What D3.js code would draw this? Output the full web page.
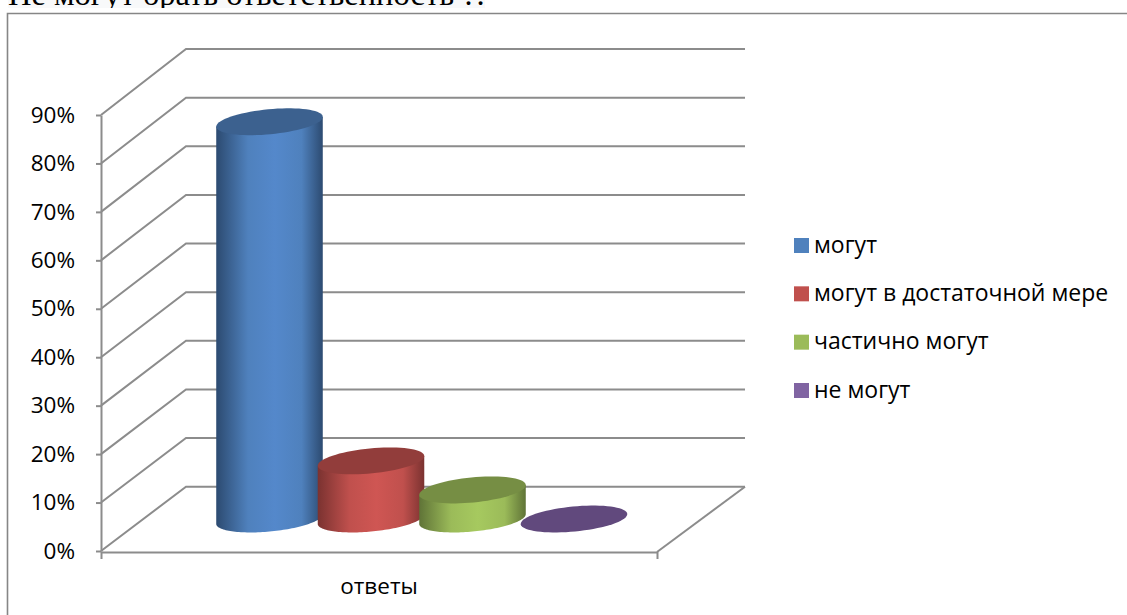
<!DOCTYPE html>
<html>
<head>
<meta charset="utf-8">
<script src="https://cdn.jsdelivr.net/npm/d3@7"></script>
<style>
  html, body { margin: 0; padding: 0; background: #fff; overflow: hidden; }
  text { font-family: "Open Sans", sans-serif; fill: #000; }
</style>
</head>
<body>
<svg id="chart" width="1127" height="615"></svg>
<script>
const caption = "Не могут брать ответственность ?.";
const category = ["ответы"];
const series = ["могут", "могут в достаточной мере", "частично могут", "не могут"];
const values = [0.82, 0.12, 0.06, 0];
const tickValues = [0, 0.1, 0.2, 0.3, 0.4, 0.5, 0.6, 0.7, 0.8, 0.9];
const faceColors = ["#4f81bd", "#c0504d", "#9bbb59", "#8064a2"];
const topColors = ["#3c618f", "#923d3b", "#768e44", "#61497d"];
const lightColors = ["#5488cb", "#cf5653", "#a6c95f", "#8064a2"];
const darkColors = ["#2c4a70", "#7a3230", "#5f7337", "#61497d"];

const gridColor = "#8c8c8c";
const front = { left: 101, right: 657, bottom: 551, top: 115, floor: 552 };
const back = { left: 186, right: 745, bottom: 486.7, top: 49 };

const svg = d3.select("#chart");
const defs = svg.append("defs");

// caption cut off by the top of the picture
defs.append("clipPath").attr("id", "captionClip")
  .append("rect").attr("x", 0).attr("y", 0).attr("width", 1127).attr("height", 8);
const captionG = svg.append("g").attr("clip-path", "url(#captionClip)");
captionG.append("rect")
  .attr("x", 8).attr("y", 0).attr("width", 477).attr("height", 8)
  .attr("fill", "#f8f9fa");
captionG.append("text")
  .attr("x", 8).attr("y", 5)
  .style("font-family", "'Liberation Serif', serif")
  .style("font-size", "32.5px")
  .text(caption);

// outer frame, runs off the right and bottom
svg.append("path")
  .attr("d", "M7.5,615V13.5H1127")
  .attr("fill", "none")
  .attr("stroke", "#868686")
  .attr("stroke-width", 1.6);

const y = d3.scaleLinear().domain([0, 0.9]).range([front.bottom, front.top]);
const yBack = d3.scaleLinear().domain([0, 0.9]).range([back.bottom, back.top]);
const x = d3.scaleBand().domain(category).range([front.left, front.right]);
const barX = d3.scalePoint().domain(series).range([269.5, 574]);

// walls and floor
const grid = svg.append("g")
  .attr("fill", "none")
  .attr("stroke", gridColor)
  .attr("stroke-width", 2);
grid.selectAll("path.wall")
  .data(tickValues)
  .join("path")
  .attr("class", "wall")
  .attr("d", d => d3.line()([
    [front.left, y(d)],
    [back.left, yBack(d)],
    [back.right, yBack(d)]
  ]));
grid.append("path")
  .attr("d", d3.line()([
    [front.right, front.floor],
    [back.right, yBack(0)]
  ]));

const yAxis = d3.axisLeft(y)
  .tickValues(tickValues)
  .tickFormat(d3.format(".0%"))
  .tickSizeInner(5)
  .tickSizeOuter(0)
  .tickPadding(21);
const yG = svg.append("g")
  .attr("transform", `translate(${front.left},0)`)
  .call(yAxis);
yG.selectAll("text").style("font-size", "22.5px");
yG.selectAll("path,line").attr("stroke", gridColor).attr("stroke-width", 2);

const xAxis = d3.axisBottom(x)
  .tickSizeInner(0)
  .tickSizeOuter(7)
  .tickPadding(26);
const xG = svg.append("g")
  .attr("transform", `translate(0,${front.floor})`)
  .call(xAxis);
xG.selectAll("text").style("font-size", "22.5px");
xG.selectAll("path").attr("stroke", gridColor).attr("stroke-width", 2);
xG.select(".domain").attr("fill", "none");

// cylinders
const rx = 53.5, ry = 12.5, tilt = -5.5 * Math.PI / 180;
const floorY = 519;
const pxPerUnit = y(0) - y(0.1);

function ellipsePoint(cx, cy, t) {
  const px = rx * Math.cos(t), py = ry * Math.sin(t);
  return [cx + px * Math.cos(tilt) - py * Math.sin(tilt),
          cy + px * Math.sin(tilt) + py * Math.cos(tilt)];
}
const tEdge = Math.atan2(-ry * Math.sin(tilt), rx * Math.cos(tilt));
const ellipseSteps = d3.range(0, 73).map(i => i / 72);
const lineGen = d3.line();

series.forEach((name, i) => {
  const cx = barX(name);
  const topY = floorY - values[i] * 10 * pxPerUnit;
  const bar = svg.append("g").attr("class", "bar");

  if (values[i] > 0) {
    const grad = defs.append("linearGradient")
      .attr("id", "barGrad" + i)
      .attr("gradientUnits", "userSpaceOnUse")
      .attr("x1", cx - rx).attr("x2", cx + rx)
      .attr("y1", 0).attr("y2", 0);
    [[0, darkColors[i]], [0.3, faceColors[i]], [0.55, lightColors[i]], [0.8, faceColors[i]], [1, darkColors[i]]]
      .forEach(s => grad.append("stop").attr("offset", s[0]).attr("stop-color", s[1]));

    // lower half of the base, going from right edge round to left edge
    const lower = ellipseSteps.map(f => ellipsePoint(cx, floorY, tEdge + f * Math.PI));
    const body = [
      ellipsePoint(cx, topY, tEdge),
      ...lower,
      ellipsePoint(cx, topY, tEdge + Math.PI)
    ];
    bar.append("path")
      .attr("d", lineGen(body) + "Z")
      .attr("fill", `url(#barGrad${i})`);
  }

  const full = ellipseSteps.map(f => ellipsePoint(cx, topY, f * 2 * Math.PI));
  bar.append("path")
    .attr("d", lineGen(full) + "Z")
    .attr("fill", topColors[i]);
});

// legend
const legendY = d3.scalePoint().domain(series).range([245.5, 390.5]);
const legend = svg.append("g").selectAll("g")
  .data(series)
  .join("g")
  .attr("transform", d => `translate(794,${legendY(d)})`);
legend.append("rect")
  .attr("x", 0).attr("y", -7.5)
  .attr("width", 15).attr("height", 15)
  .attr("fill", (d, i) => faceColors[i]);
legend.append("text")
  .attr("x", 20).attr("y", 7)
  .style("font-size", "23px")
  .text(d => d);
</script>
</body>
</html>
